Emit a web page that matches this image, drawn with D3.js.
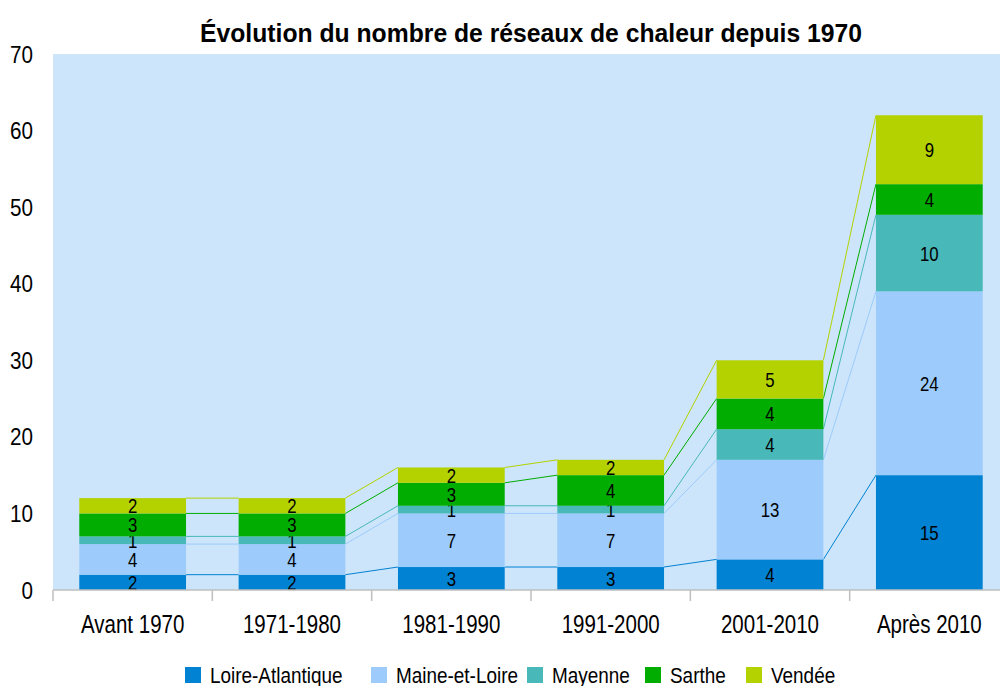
<!DOCTYPE html>
<html>
<head>
<meta charset="utf-8">
<script src="https://cdn.jsdelivr.net/npm/d3@7"></script>
<style>
  body { margin: 0; background: #fff; }
  svg { display: block; font-family: "Liberation Sans", Arial, sans-serif; }
</style>
</head>
<body>
<div class="chart"></div>
<script>
/* Chart data
--------------------------------------------------- */
const categories = ['Avant 1970', '1971-1980', '1981-1990', '1991-2000', '2001-2010', 'Après 2010'];
const seriesNames = ['Loire-Atlantique', 'Maine-et-Loire', 'Mayenne', 'Sarthe', 'Vendée'];
const loireAtlantique = [2, 2, 3, 3, 4, 15];
const maineEtLoire = [4, 4, 7, 7, 13, 24];
const mayenne = [1, 1, 1, 1, 4, 10];
const sarthe = [3, 3, 3, 4, 4, 4];
const vendee = [2, 2, 2, 2, 5, 9];
const yTicks = [0, 10, 20, 30, 40, 50, 60, 70];
const colors = ['#0282d2', '#9ccbfc', '#48b8b8', '#00ad00', '#b3d200'];

const seriesValues = [loireAtlantique, maineEtLoire, mayenne, sarthe, vendee];

/* Build rows for d3.stack
--------------------------------------------------- */
const rows = categories.map((cat, i) => {
  const row = { cat };
  seriesNames.forEach((name, s) => (row[name] = seriesValues[s][i]));
  return row;
});
const stacked = d3.stack().keys(seriesNames)(rows);

// squeeze text horizontally to mimic the narrow font of the original
function condense(selection, factor) {
  selection.each(function () {
    const len = this.getComputedTextLength();
    d3.select(this).attr('textLength', len * factor).attr('lengthAdjust', 'spacingAndGlyphs');
  });
}

/* Draw the chart
--------------------------------------------------- */
const width = 1000;
const height = 686;
const plot = { left: 53, top: 54, right: 1009, bottom: 590 };

const svg = d3
  .select('.chart')
  .append('svg')
  .attr('width', width)
  .attr('height', height);

const x = d3.scaleBand().domain(categories).range([plot.left, plot.right]).paddingInner(0.33).paddingOuter(0.165);
const xStep = d3.scaleBand().domain(categories).range([plot.left, plot.right]);
const y = d3.scaleLinear().domain([0, 70]).range([plot.bottom, plot.top]);

svg
  .append('rect')
  .attr('x', plot.left)
  .attr('y', plot.top)
  .attr('width', plot.right - plot.left)
  .attr('height', plot.bottom - plot.top)
  .attr('fill', '#cce5fb');

// connector lines between stacked bars
stacked.forEach((layer, s) => {
  for (let i = 0; i < categories.length - 1; i++) {
    svg
      .append('line')
      .attr('x1', x(categories[i]) + x.bandwidth())
      .attr('x2', x(categories[i + 1]))
      .attr('y1', y(layer[i][1]))
      .attr('y2', y(layer[i + 1][1]))
      .attr('stroke', colors[s])
      .attr('stroke-width', 1);
  }
});

// bars
const groups = svg
  .selectAll('.layer')
  .data(stacked)
  .enter()
  .append('g')
  .attr('class', 'layer')
  .attr('fill', (d, s) => colors[s]);

groups
  .selectAll('rect')
  .data(d => d)
  .enter()
  .append('rect')
  .attr('x', d => x(d.data.cat))
  .attr('y', d => y(d[1]))
  .attr('width', x.bandwidth())
  .attr('height', d => y(d[0]) - y(d[1]));

// value labels
const valueLabels = groups
  .selectAll('text')
  .data(d => d)
  .enter()
  .append('text')
  .attr('x', d => x(d.data.cat) + x.bandwidth() / 2)
  .attr('y', d => (y(d[0]) + y(d[1])) / 2)
  .attr('dy', '0.36em')
  .attr('text-anchor', 'middle')
  .attr('font-size', 21)
  .attr('fill', '#000')
  .text(d => d[1] - d[0]);
condense(valueLabels, 0.8);

// x axis
const xAxis = svg
  .append('g')
  .attr('transform', 'translate(0,' + plot.bottom + ')');
xAxis
  .append('line')
  .attr('x1', plot.left)
  .attr('x2', plot.right)
  .attr('stroke', '#bfbfbf')
  .attr('stroke-width', 1.5);
xAxis
  .selectAll('.tick')
  .data(categories)
  .enter()
  .append('line')
  .attr('x1', d => xStep(d))
  .attr('x2', d => xStep(d))
  .attr('y1', 0)
  .attr('y2', 11)
  .attr('stroke', '#bfbfbf')
  .attr('stroke-width', 1.5);
const catLabels = xAxis
  .selectAll('text')
  .data(categories)
  .enter()
  .append('text')
  .attr('x', d => x(d) + x.bandwidth() / 2)
  .attr('y', 43)
  .attr('text-anchor', 'middle')
  .attr('font-size', 25)
  .attr('fill', '#000')
  .text(d => d);
condense(catLabels, 0.82);

// y axis labels
const yLabels = svg
  .append('g')
  .selectAll('text')
  .data(yTicks)
  .enter()
  .append('text')
  .attr('x', 33)
  .attr('y', d => y(d))
  .attr('dy', '0.36em')
  .attr('text-anchor', 'end')
  .attr('font-size', 24)
  .attr('fill', '#000')
  .text(d => d);
condense(yLabels, 0.86);

// title
svg
  .append('text')
  .attr('x', 531)
  .attr('y', 42)
  .attr('text-anchor', 'middle')
  .attr('font-size', 26)
  .attr('font-weight', 'bold')
  .attr('textLength', 662)
  .attr('lengthAdjust', 'spacingAndGlyphs')
  .attr('fill', '#000')
  .text('Évolution du nombre de réseaux de chaleur depuis 1970');

// legend
const legendX = [185, 371, 527, 645, 746];
const legend = svg
  .append('g')
  .selectAll('g')
  .data(seriesNames)
  .enter()
  .append('g')
  .attr('transform', (d, s) => 'translate(' + legendX[s] + ',667)');
legend
  .append('rect')
  .attr('width', 16)
  .attr('height', 16)
  .attr('fill', (d, s) => colors[s]);
const legendLabels = legend
  .append('text')
  .attr('x', 25)
  .attr('y', 16)
  .attr('font-size', 22)
  .attr('fill', '#000')
  .text(d => d);
condense(legendLabels, 0.86);
</script>
</body>
</html>
